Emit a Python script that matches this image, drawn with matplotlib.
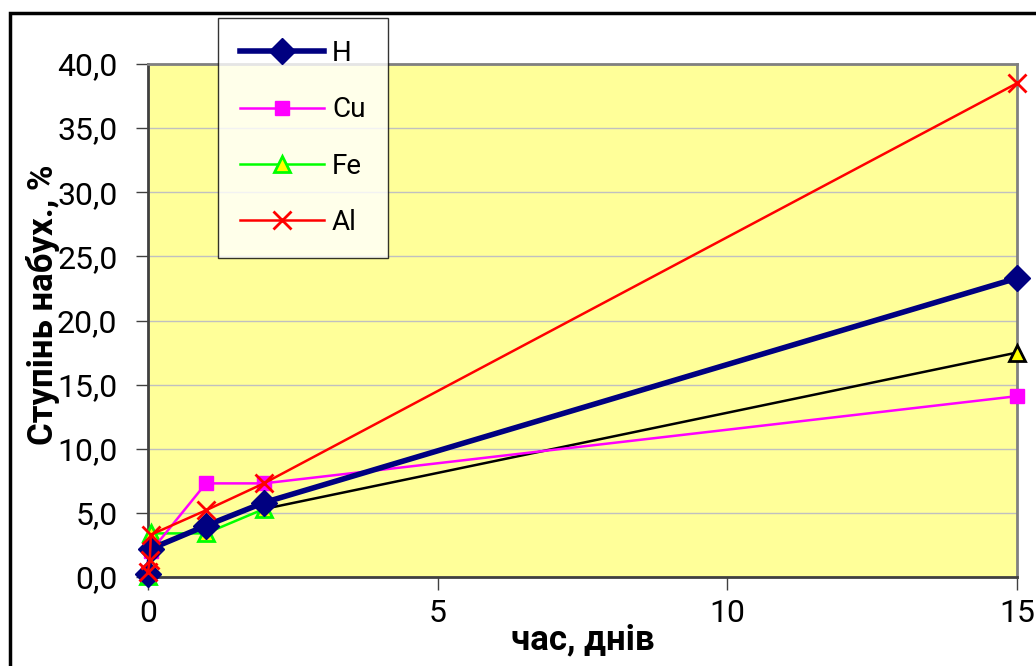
import matplotlib
matplotlib.use('Agg')
import matplotlib.pyplot as plt
from matplotlib.patches import Rectangle
from matplotlib.ticker import FuncFormatter

plt.rcParams['font.family'] = ['Roboto', 'DejaVu Sans']

# data
x_H = [0, 0.05, 1, 2, 15]
y_H = [0.2, 2.2, 4.0, 5.8, 23.3]

x_Cu = [0, 0.05, 1, 2, 15]
y_Cu = [0.2, 2.0, 7.3, 7.3, 14.1]

x_Fe = [0, 0.05, 1, 2]
y_Fe = [0.1, 3.4, 3.4, 5.3]
x_Fe2 = [2, 15]
y_Fe2 = [5.3, 17.5]

x_Al = [0, 0.03, 0.05, 1, 2, 15]
y_Al = [0.4, 1.3, 3.3, 5.2, 7.3, 38.5]

W, H = 1036., 666.
fig = plt.figure(figsize=(10.36, 6.66), dpi=100)
ax = fig.add_axes([148/W, 1 - 577/H, (1017-148)/W, (577-64)/H])
ax.set_facecolor('#FFFF99')

# outer chart frame
fig.patches.append(Rectangle((10/W, -0.1), 1.2, 1 - 13/H + 0.1,
                             transform=fig.transFigure, fill=False,
                             edgecolor='black', linewidth=2.5))

ax.plot(x_H, y_H, color='#000080', lw=4, marker='D', ms=13, label='H', clip_on=False, zorder=5)
ax.plot(x_Cu, y_Cu, color='#FF00FF', lw=1.8, marker='s', ms=10, label='Cu', clip_on=False, zorder=4)
ax.plot(x_Fe2, y_Fe2, color='black', lw=1.8, marker='', clip_on=False, zorder=3)
ax.plot(x_Fe2[1:], y_Fe2[1:], ls='', marker='^', ms=11, mfc='#FFFF00', mec='black', mew=2,
        clip_on=False, zorder=3)
ax.plot(x_Fe, y_Fe, color='#00FF00', lw=1.8, marker='^', ms=11, mfc='#FFFF00', mec='#00FF00',
        mew=2, label='Fe', clip_on=False, zorder=3)
ax.plot(x_Al, y_Al, color='#FF0000', lw=1.8, marker='x', ms=13, mew=2, label='Al',
        clip_on=False, zorder=6)

ax.set_xlim(0, 15)
ax.set_ylim(0, 40)
ax.set_xticks([0, 5, 10, 15])
ax.set_yticks(range(0, 41, 5))
ax.yaxis.set_major_formatter(FuncFormatter(lambda v, p: ('%.1f' % v).replace('.', ',')))
ax.grid(axis='y', color='#C0C0C0', lw=1)
ax.set_axisbelow(True)

for s in ['top', 'right']:
    ax.spines[s].set_color('#808080')
    ax.spines[s].set_linewidth(2)
for s in ['left', 'bottom']:
    ax.spines[s].set_color('#404040')
    ax.spines[s].set_linewidth(2)

ax.tick_params(axis='y', direction='out', length=9, width=1, color='#404040',
               labelsize=23, pad=13)
ax.tick_params(axis='x', direction='out', length=9, width=1, color='#404040',
               labelsize=23, pad=7)

fig.text(43/W, 1 - 305/H, 'Ступінь набух., %', rotation=90, fontsize=25,
         fontweight='bold', ha='center', va='center')
fig.text(583/W, 1 - 640/H, 'час, днів', fontsize=25, fontweight='bold',
         ha='center', va='center')

leg = fig.legend(loc='upper left', bbox_to_anchor=(218/W, 1 - 18/H),
                 fontsize=20, frameon=True, fancybox=False, edgecolor='black',
                 borderpad=0.8, labelspacing=1.05, handlelength=3.0, handletextpad=0.3,
                 borderaxespad=0)
leg.get_frame().set_linewidth(1)
leg.set_zorder(10)

fig.savefig('out.png', dpi=100)
